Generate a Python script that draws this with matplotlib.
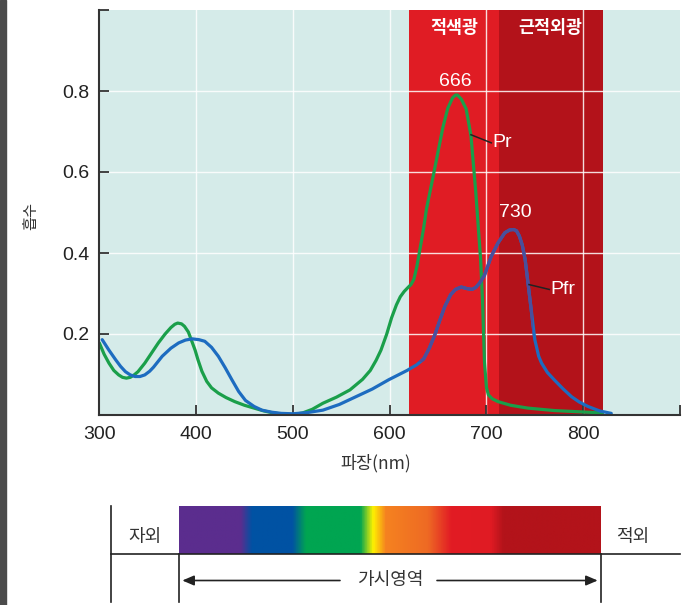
import numpy as np
import matplotlib
matplotlib.use("Agg")
import matplotlib.pyplot as plt
from matplotlib.patches import Rectangle
from matplotlib.colors import LinearSegmentedColormap

plt.rcParams['font.family'] = ['Liberation Sans', 'Noto Sans CJK KR']
KR = ['Noto Sans CJK KR', 'Liberation Sans']

# ---------------- data ----------------
pr_nm = [300, 305, 310, 315, 320, 324, 328, 332, 336, 340, 347, 354, 361, 368, 374, 378,
         381, 385, 388, 392, 395, 399, 402, 406, 411, 416, 423, 431, 440, 450, 460, 470,
         480, 490, 500, 510, 520, 531, 545, 559, 572, 580, 586, 591, 597, 602, 607, 611,
         615, 619, 622, 625, 628, 631, 635, 638, 645, 650, 655, 660, 665, 668, 670, 674,
         679, 684, 689, 692, 694, 696, 698, 700, 702, 706, 712, 725, 743, 770, 795, 820]
pr_val = [0.178, 0.150, 0.128, 0.110, 0.099, 0.093, 0.091, 0.093, 0.099, 0.107, 0.128,
          0.153, 0.178, 0.200, 0.216, 0.224, 0.227, 0.225, 0.219, 0.205, 0.186, 0.160,
          0.136, 0.108, 0.083, 0.067, 0.054, 0.043, 0.033, 0.024, 0.017, 0.010, 0.005,
          0.002, 0.001, 0.005, 0.014, 0.029, 0.044, 0.062, 0.088, 0.110, 0.135, 0.160,
          0.200, 0.240, 0.272, 0.292, 0.305, 0.315, 0.322, 0.335, 0.365, 0.405, 0.460,
          0.508, 0.590, 0.650, 0.710, 0.757, 0.783, 0.790, 0.790, 0.780, 0.756, 0.690,
          0.550, 0.450, 0.384, 0.280, 0.130, 0.068, 0.050, 0.040, 0.033, 0.024, 0.017,
          0.011, 0.008, 0.005]

pfr_nm = [303, 310, 317, 322, 327, 332, 337, 342, 347, 352, 356, 365, 374, 382, 389, 396,
          403, 409, 416, 423, 430, 437, 444, 451, 460, 468, 478, 488, 500, 515, 531, 548,
          565, 582, 599, 618, 628, 635, 641, 647, 652, 657, 663, 668, 674, 680, 685, 689,
          693, 698, 705, 712, 719, 724, 728, 731, 734, 737, 740, 745, 750, 754, 757, 763,
          770, 779, 788, 796, 805, 817, 829]
pfr_val = [0.186, 0.160, 0.136, 0.120, 0.107, 0.099, 0.095, 0.095, 0.099, 0.108, 0.118,
           0.145, 0.165, 0.178, 0.185, 0.188, 0.186, 0.182, 0.167, 0.145, 0.117, 0.087,
           0.058, 0.036, 0.021, 0.012, 0.007, 0.004, 0.003, 0.006, 0.012, 0.026, 0.045,
           0.064, 0.087, 0.110, 0.124, 0.138, 0.165, 0.200, 0.235, 0.268, 0.297, 0.310,
           0.316, 0.312, 0.310, 0.315, 0.326, 0.345, 0.392, 0.425, 0.450, 0.457, 0.458,
           0.455, 0.442, 0.420, 0.384, 0.285, 0.186, 0.145, 0.128, 0.105, 0.087, 0.065,
           0.045, 0.032, 0.021, 0.010, 0.004]

bands = [(620, 713, '적색광', '#e01c24'), (713, 820, '근적외광', '#b3121a')]
xticks = [300, 400, 500, 600, 700, 800, 900]
xticklabels = ['300', '400', '500', '600', '700', '800', '']
yticks = [0.2, 0.4, 0.6, 0.8, 1.0]
yticklabels = ['0.2', '0.4', '0.6', '0.8', '']
peaks = [(668, 0.823, '666'), (730, 0.50, '730')]
curve_labels = [('Pr', (684, 0.692), (705, 0.672)), ('Pfr', (744, 0.322), (765, 0.310))]

spectrum_stops = [(0.000, '#5b2d8e'), (0.145, '#5b2d8e'), (0.172, '#0052a3'),
                  (0.268, '#0052a3'), (0.300, '#00a551'), (0.430, '#00a551'),
                  (0.460, '#fff200'), (0.490, '#f58220'), (0.590, '#ee6a24'),
                  (0.645, '#e21c24'), (0.740, '#e01b23'), (0.770, '#b3131a'),
                  (1.000, '#b3131a')]

# ---------------- figure ----------------
W, H = 691, 605
fig = plt.figure(figsize=(W / 100, H / 100), dpi=100)
fig.patches.append(Rectangle((0, 0), 6 / W, 1, transform=fig.transFigure,
                             color='#4b4b4b', zorder=0))

ax = fig.add_axes([99.3 / W, 1 - 415 / H, (680 - 99.3) / W, (415 - 10) / H])
ax.set_facecolor('#d5ebe9')
ax.set_xlim(300, 900)
ax.set_ylim(0, 1.0)

for lo, hi, name, col in bands:
    ax.axvspan(lo, hi, color=col, zorder=0.5, lw=0)
    ax.text((lo + hi) / 2, 0.955, name, ha='center', va='center', color='white',
            fontsize=12.5, fontweight='bold', family=KR, zorder=5)

for xv in xticks[1:-1]:
    ax.axvline(xv, color='white', lw=1.0, alpha=0.85, zorder=1)
for yv in yticks[:-1]:
    ax.axhline(yv, color='white', lw=1.0, alpha=0.85, zorder=1)

ax.plot(pr_nm, pr_val, color='#1a9f4a', lw=2.3, zorder=3, solid_capstyle='round',
        solid_joinstyle='round')
ax.plot(pfr_nm, pfr_val, color='#1d6cc0', lw=2.3, zorder=3, solid_capstyle='round',
        solid_joinstyle='round')
# darker tint of the Pfr curve over the red bands
ov, = ax.plot(pfr_nm, pfr_val, color='#4a4f9c', lw=2.3, zorder=3.1,
              solid_joinstyle='round')
clip = Rectangle((622, 0.13), 126, 1, transform=ax.transData)
ov.set_clip_path(clip)

for xv, yv, s in peaks:
    ax.text(xv, yv, s, ha='center', va='center', color='white', fontsize=14, zorder=5)
for s, p0, p1 in curve_labels:
    ax.plot([p0[0], p1[0]], [p0[1], p1[1]], color='#222222', lw=1.1, zorder=4)
    ax.text(p1[0] + 1.5, p1[1], s, ha='left', va='center', color='white',
            fontsize=14, zorder=5)

ax.set_xticks(xticks)
ax.set_xticklabels(xticklabels)
ax.set_yticks(yticks)
ax.set_yticklabels(yticklabels)
ax.tick_params(direction='in', length=7, width=1.3, color='#333333',
               labelsize=14, labelcolor='#222222')
ax.tick_params(axis='x', pad=8)
ax.tick_params(axis='y', pad=7)
for side in ['top', 'right']:
    ax.spines[side].set_visible(False)
for side in ['left', 'bottom']:
    ax.spines[side].set_color('#333333')
    ax.spines[side].set_linewidth(1.5)
    ax.spines[side].set_zorder(6)

fig.text(31 / W, 1 - 216 / H, '흡수', rotation=90, ha='center', va='center',
         fontsize=11, family=KR, color='#333333')
fig.text(376 / W, 1 - 463 / H, '파장(nm)', ha='center', va='center',
         fontsize=12.5, family=KR, color='#333333')

# ---------------- spectrum diagram ----------------
d = fig.add_axes([0, 0, 1, 1], zorder=-1)
d.set_xlim(0, W)
d.set_ylim(H, 0)
d.axis('off')
d.patch.set_visible(False)

x0, x1, ytop, ymid, ybot, xl, xr = 179.3, 600.7, 506, 554, 601.5, 111.5, 680
cmap = LinearSegmentedColormap.from_list('spec', spectrum_stops)
grad = np.linspace(0, 1, 512)[None, :]
d.imshow(grad, cmap=cmap, aspect='auto', extent=(x0, x1, ymid, ytop),
         interpolation='bilinear')
lc = '#222222'
d.plot([xl, xr], [ymid, ymid], color=lc, lw=1.2)
d.plot([xl, xl], [ytop, ybot], color=lc, lw=1.2)
d.plot([x0, x0], [ymid, ybot], color=lc, lw=1.2)
d.plot([x1, x1], [ymid, ybot], color=lc, lw=1.2)
d.text((xl + x0) / 2, 537, '자외', ha='center', va='center', fontsize=13,
       family=KR, color='#333333')
d.text(633, 537, '적외', ha='center', va='center', fontsize=13,
       family=KR, color='#333333')
ya = 580.5
d.text((x0 + x1) / 2, ya, '가시영역', ha='center', va='center', fontsize=13,
       family=KR, color='#333333')
ap = dict(arrowstyle='-|>,head_length=0.7,head_width=0.3', color='#222222', lw=1.2,
          shrinkA=0, shrinkB=0)
d.annotate('', xy=(x0 + 3, ya), xytext=(340, ya), arrowprops=ap)
d.annotate('', xy=(x1 - 3, ya), xytext=(437, ya), arrowprops=ap)

fig.savefig('out.png', dpi=100)
